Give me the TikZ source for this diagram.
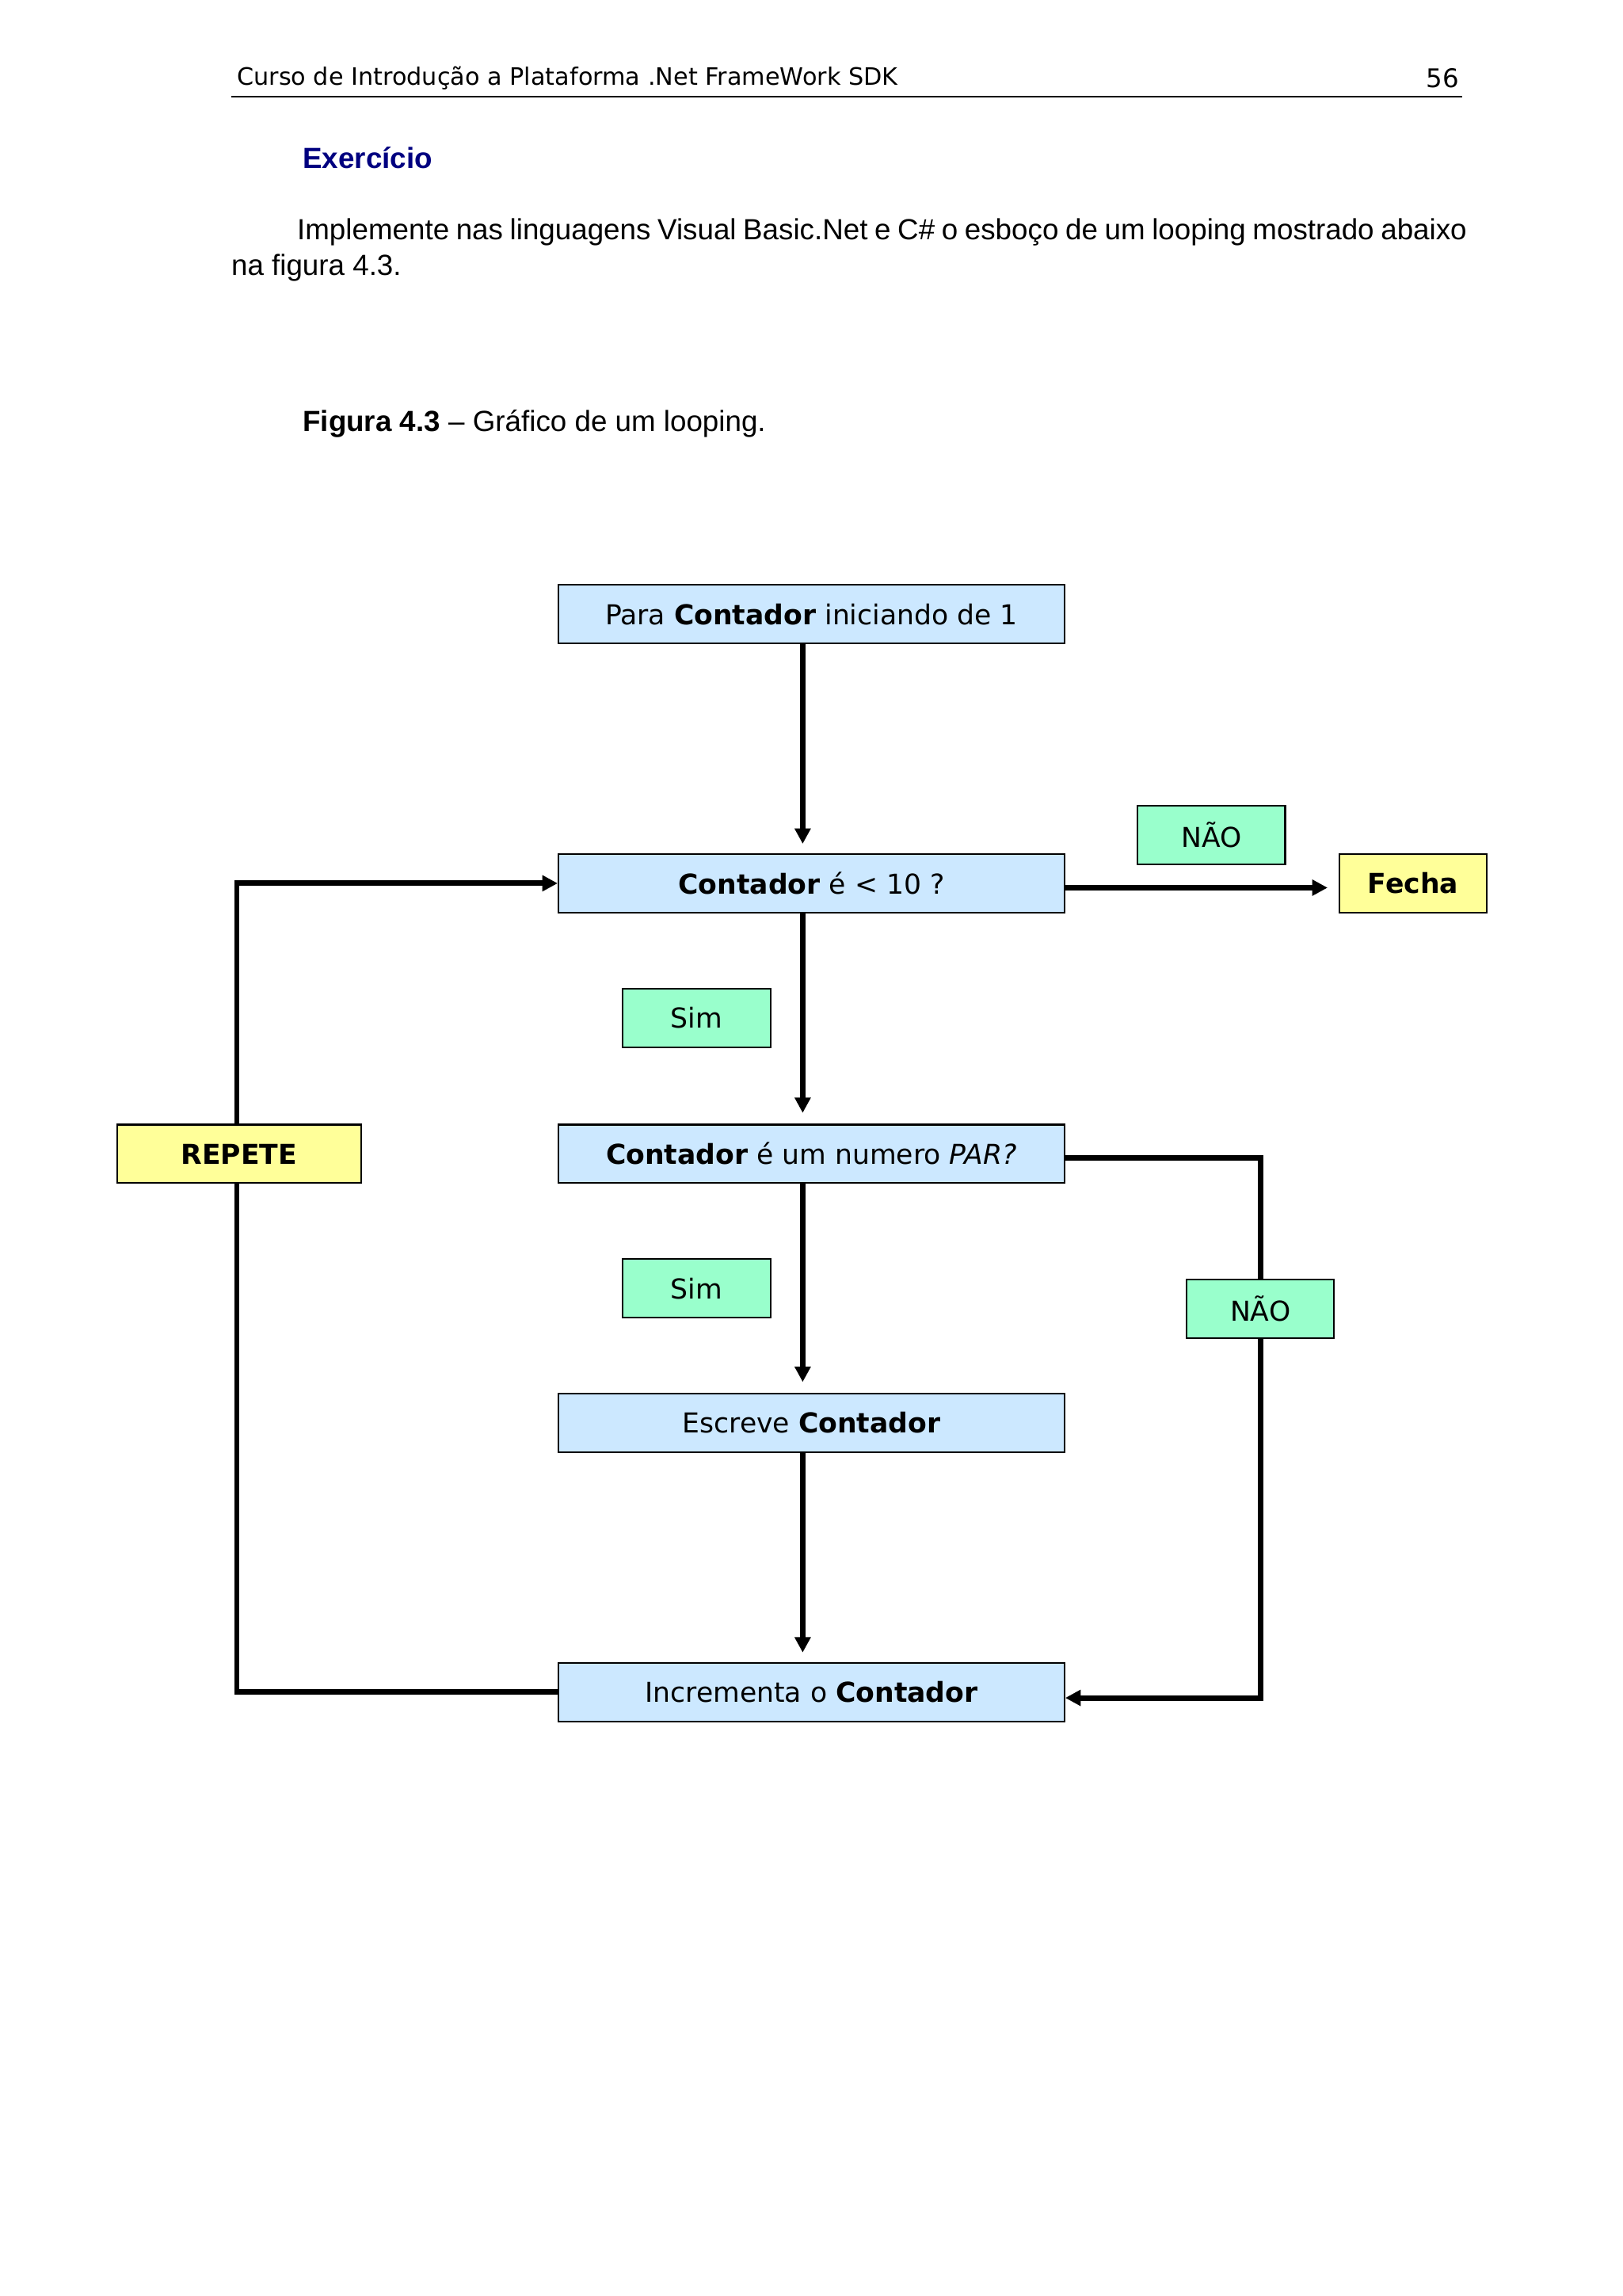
\documentclass[tikz,border=0pt]{standalone}
\usepackage{fontspec}
\setmainfont{Liberation Sans}
\newfontfamily\verd{DejaVu Sans}
\usetikzlibrary{arrows.meta}
\definecolor{bbox}{HTML}{CCE8FF}
\definecolor{gbox}{HTML}{99FFCC}
\definecolor{ybox}{HTML}{FFFF99}
\definecolor{dblue}{HTML}{000080}
\begin{document}
\begin{tikzpicture}[x=0.03cm,y=-0.03cm,
 bx/.style={draw=black,line width=1pt,minimum height=1.2cm,inner sep=0pt,font=\verd\fontsize{16}{18}\selectfont},
 blue/.style={bx,fill=bbox,minimum width=10.38cm},
 green/.style={bx,fill=gbox,minimum width=3.03cm},
 yel/.style={bx,fill=ybox},
 con/.style={line width=3.2pt,-{Triangle[length=9pt,width=9pt]}},
 ln/.style={line width=3.2pt}]
\fill[white] (0,0) rectangle (1110,1570);
\node[anchor=base west,font=\verd\fontsize{14}{16}\selectfont] (hd) at (158,58) {Curso de Introdução a Plataforma .Net FrameWork SDK};
\node[anchor=base east,font=\verd\fontsize{15}{16}\selectfont] (pg) at (1002,60) {56};
\draw[line width=1pt] (158,66) -- (1000,66);
\node[anchor=base west,font=\fontsize{17}{20}\selectfont\bfseries,text=dblue] (ex) at (203,115) {Exercício};
\node[anchor=north west,inner sep=0pt,font=\fontsize{17}{21}\selectfont,text width=25.35cm,align=justify] (par) at (158,149) {\hspace*{1.35cm}Implemente nas linguagens Visual Basic.Net e C\# o esboço de um looping mostrado abaixo na figura 4.3.};
\node[anchor=base west,font=\fontsize{17}{20}\selectfont] (fig) at (203,295) {\textbf{Figura 4.3} – Gráfico de um looping.};

\node[blue] (b1) at (555,420) {Para \textbf{Contador} iniciando de 1};
\node[blue] (b2) at (555,604) {\textbf{Contador} é < 10 ?};
\node[blue] (b3) at (555,789) {\textbf{Contador} é um numero \textit{PAR?}};
\node[blue] (b4) at (555,973) {Escreve \textbf{Contador}};
\node[blue] (b5) at (555,1157) {Incrementa o \textbf{Contador}};
\node[green] (n1) at (828.5,571) {NÃO};
\node[yel,minimum width=3.03cm] (fe) at (966.5,604) {\textbf{Fecha}};
\node[green] (s1) at (476.5,696) {Sim};
\node[green] (s2) at (476.5,881) {Sim};
\node[green] (n2) at (862,895) {NÃO};
\node[yel,minimum width=5.01cm] (rp) at (163.5,789) {\textbf{REPETE}};

\coordinate (t2) at (549,577);
\coordinate (t3) at (549,761);
\coordinate (t4) at (549,945);
\coordinate (t5) at (549,1130);
\draw[con] (b1.south -| t2) -- (t2);
\draw[con] (b2.south -| t3) -- (t3);
\draw[con] (b3.south -| t4) -- (t4);
\draw[con] (b4.south -| t5) -- (t5);
\coordinate (fa) at (908,607);
\draw[con] (b2.east |- fa) -- (fa);
\coordinate (r1) at (862,792);
\coordinate (r2) at (862,1161);
\draw[ln] (b3.east |- r1) -- (r1) -- (n2.north);
\draw[con] (n2.south) -- (r2) -- (b5.east |- r2);
\coordinate (l1) at (162,1157);
\coordinate (l2) at (162,604);
\draw[ln] (b5.west) -- (l1) -- (rp.south -| l1);
\draw[con] (rp.north -| l2) -- (l2) -- (b2.west);
\end{tikzpicture}
\end{document}
